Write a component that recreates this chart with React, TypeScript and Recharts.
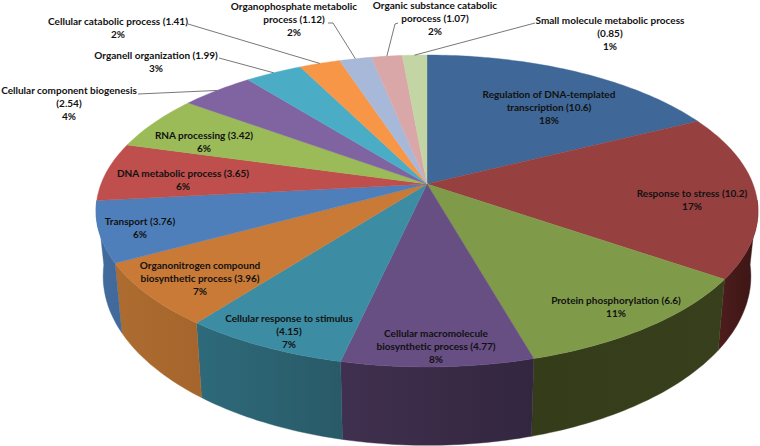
import { Pie, PieChart } from "recharts";

const categories = [
  "Regulation of DNA-templated transcription",
  "Response to stress",
  "Protein phosphorylation",
  "Cellular macromolecule biosynthetic process",
  "Cellular response to stimulus",
  "Organonitrogen compound biosynthetic process",
  "Transport",
  "DNA metabolic process",
  "RNA processing",
  "Cellular component biogenesis",
  "Organell organization",
  "Cellular catabolic process",
  "Organophosphate metabolic process",
  "Organic substance catabolic porocess",
  "Small molecule metabolic process",
];
const values = [10.6, 10.2, 6.6, 4.77, 4.15, 3.96, 3.76, 3.65, 3.42, 2.54, 1.99, 1.41, 1.12, 1.07, 0.85];

// label text, wrapped the way the picture wraps it
const labelRows = [
  ["Regulation of DNA-templated", "transcription (10.6)", "18%"],
  ["Response to stress (10.2)", "17%"],
  ["Protein phosphorylation (6.6)", "11%"],
  ["Cellular macromolecule", "biosynthetic process (4.77)", "8%"],
  ["Cellular response to stimulus", "(4.15)", "7%"],
  ["Organonitrogen compound", "biosynthetic process (3.96)", "7%"],
  ["Transport (3.76)", "6%"],
  ["DNA metabolic process (3.65)", "6%"],
  ["RNA processing (3.42)", "6%"],
  ["Cellular component biogenesis", "(2.54)", "4%"],
  ["Organell organization (1.99)", "3%"],
  ["Cellular catabolic process (1.41)", "2%"],
  ["Organophosphate metabolic", "process (1.12)", "2%"],
  ["Organic substance catabolic", "porocess (1.07)", "2%"],
  ["Small molecule metabolic process", "(0.85)", "1%"],
];

const topColors = [
  "#3f6797", "#974040", "#7f9b4a", "#674e83", "#3c8da3",
  "#c97a37", "#4f7fbb", "#be4f4c", "#9bbb59", "#8064a2",
  "#4bacc6", "#f79646", "#a8b8d8", "#d9a7a7", "#c3d5a5",
];
const wallColors = [
  ["#2f4d71", "#2f4d71"], ["#4a1c1b", "#3a1514"], ["#343c1a", "#383f1c"], ["#40304f", "#33263f"], ["#2e6a7a", "#295a68"],
  ["#ad6c30", "#a5652c"], ["#436c9e", "#41699b"], ["#8e3a38", "#8e3a38"], ["#748c42", "#748c42"], ["#604a79", "#604a79"],
  ["#388094", "#388094"], ["#b97034", "#b97034"], ["#7e8aa2", "#7e8aa2"], ["#a27d7d", "#a27d7d"], ["#92a07b", "#92a07b"],
];

// centre x and first row y of each label
const labelAnchors = [
  [549, 94], [692, 193], [616, 300], [436, 333], [289, 318],
  [200, 265], [140, 221], [183, 173], [204, 135], [69, 90],
  [156, 55], [118, 21], [294, 6], [435, 5], [610, 20],
];
// where a leader line leaves its label, only the small outer slices have one
const leaderStarts: Record<number, number[][]> = {
  9: [[138, 94]],
  10: [[219, 58]],
  11: [[188, 24]],
  12: [[328, 23], [333, 23]],
  13: [[398, 23], [395, 24]],
  14: [[535, 23]],
};

const data = categories.map((name, i) => ({ name, value: values[i] }));

const CENTER_X = 427;
const CENTER_Y = 184;
const TILT = 0.173;

// w is how far a rim point sits towards the viewer, -1 back to 1 front
const rimDepth = (angle: number) => -Math.cos(((90 - angle) * Math.PI) / 180);

// perspective view of the round pie, angle is the Recharts one in degrees
function topPoint(angle: number) {
  const t = ((90 - angle) * Math.PI) / 180;
  const u = Math.sin(t);
  const w = -Math.cos(t);
  const d = 1 - TILT * w;
  return [CENTER_X + (326 * u) / d, CENTER_Y + (151.3 * w) / d];
}

function bottomPoint(angle: number) {
  const t = ((90 - angle) * Math.PI) / 180;
  const u = Math.sin(t);
  const w = -Math.cos(t);
  const d = 1 - TILT * w;
  return [CENTER_X + (319 * u) / d, 247 + (164 * w) / d];
}

function arcAngles(start: number, end: number) {
  const steps = Math.max(2, Math.ceil(Math.abs(end - start)));
  const angles: number[] = [];
  for (let i = 0; i <= steps; i++) {
    angles.push(start + ((end - start) * i) / steps);
  }
  return angles;
}

const toPath = (pts: number[][]) =>
  "M" + pts.map((p) => `${p[0].toFixed(1)},${p[1].toFixed(1)}`).join("L") + "Z";

function TopFace(props: any) {
  const { startAngle, endAngle, index } = props;
  const pts = [[CENTER_X, CENTER_Y], ...arcAngles(startAngle, endAngle).map(topPoint)];
  const fill = topColors[index];
  return <path d={toPath(pts)} fill={fill} stroke={fill} strokeWidth={0.4} />;
}

function WallFace(props: any) {
  const { startAngle, endAngle, index } = props;
  // the back of the wall never shows, and would poke out past its neighbour at the sides
  const angles = arcAngles(startAngle, endAngle).filter((a) => rimDepth(a) >= 0.1);
  if (angles.length < 2) return <g />;
  const top = angles.map(topPoint);
  const bottom = angles.map(bottomPoint).reverse();
  const xs = top.map((p) => p[0]);
  const id = `wall-${index}`;
  return (
    <g>
      <defs>
        <linearGradient id={id} gradientUnits="userSpaceOnUse" x1={Math.min(...xs)} x2={Math.max(...xs)} y1={0} y2={0}>
          <stop offset="0%" stopColor={wallColors[index][0]} />
          <stop offset="100%" stopColor={wallColors[index][1]} />
        </linearGradient>
      </defs>
      <path d={toPath([...top, ...bottom])} fill={`url(#${id})`} stroke={`url(#${id})`} strokeWidth={0.4} />
    </g>
  );
}

function SliceLabel(props: any) {
  const { index, midAngle } = props;
  const [x, y] = labelAnchors[index];
  const starts = leaderStarts[index];
  const rim = topPoint(midAngle);
  return (
    <g>
      {starts && (
        <polyline
          points={[...starts, rim].map((p) => p.join(",")).join(" ")}
          fill="none"
          stroke="#555"
          strokeWidth={0.8}
        />
      )}
      <text x={x} y={y} textAnchor="middle" dominantBaseline="central" fontFamily="Lato" fontWeight={700} fontSize={10} fill="#111">
        {labelRows[index].map((row, i) => (
          <tspan key={i} x={x} dy={i === 0 ? 0 : 13}>
            {row}
          </tspan>
        ))}
      </text>
    </g>
  );
}

export default function App() {
  return (
    <div style={{ position: "absolute", left: 0, top: 0, width: 760, height: 446, background: "#fff" }}>
      <PieChart width={760} height={446} margin={{ top: 0, right: 0, bottom: 0, left: 0 }}>
        <Pie
          data={data}
          dataKey="value"
          nameKey="name"
          cx={CENTER_X}
          cy={CENTER_Y}
          outerRadius={151}
          startAngle={90}
          endAngle={-270}
          shape={WallFace}
          label={false}
          labelLine={false}
          isAnimationActive={false}
        />
        <Pie
          data={data}
          dataKey="value"
          nameKey="name"
          cx={CENTER_X}
          cy={CENTER_Y}
          outerRadius={151}
          startAngle={90}
          endAngle={-270}
          shape={TopFace}
          label={SliceLabel}
          labelLine={false}
          isAnimationActive={false}
        />
      </PieChart>
    </div>
  );
}
